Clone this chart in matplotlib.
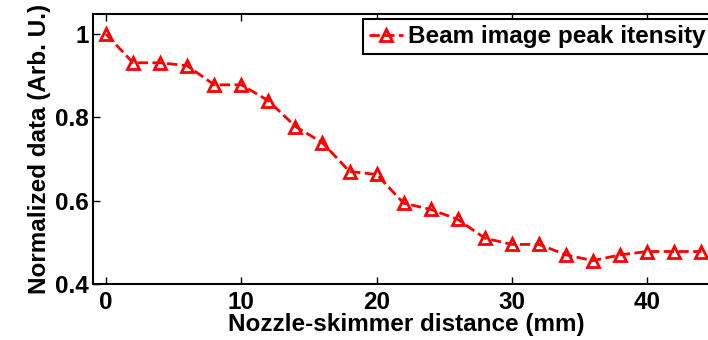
import numpy as np
import matplotlib
matplotlib.use("Agg")
import matplotlib.pyplot as plt

plt.rcParams['font.family'] = ['Liberation Sans', 'DejaVu Sans']
plt.rcParams['font.weight'] = 'bold'

# data
distance_mm = [0, 2, 4, 6, 8, 10, 12, 14, 16, 18, 20, 22,
               24, 26, 28, 30, 32, 34, 36, 38, 40, 42, 44]
peak_norm = [1.000, 0.931, 0.931, 0.924, 0.878, 0.878, 0.840, 0.778,
             0.739, 0.670, 0.663, 0.594, 0.579, 0.555, 0.510, 0.495,
             0.495, 0.470, 0.456, 0.470, 0.478, 0.478, 0.478]
x_ticks = [0, 10, 20, 30, 40]
y_ticks = [0.4, 0.6, 0.8, 1.0]
y_ticklabels = ['0.4', '0.6', '0.8', '1']

fs = 17.5
W, H = 708, 340
fig = plt.figure(figsize=(W / 100, H / 100), dpi=100)
# axes runs past the right edge, like the cropped original
ax = fig.add_axes([93 / W, 56 / H, 627 / W, 270 / H])

ax.plot(distance_mm, peak_norm, color='red', linestyle='--', linewidth=2,
        marker='^', markersize=8, markerfacecolor='none',
        markeredgecolor='red', markeredgewidth=2,
        label='Beam image peak itensity')

ax.set_xlim(-0.96, 45.38)
ax.set_ylim(0.4, 1.048)
ax.set_xticks(x_ticks)
ax.set_yticks(y_ticks)
ax.set_yticklabels(y_ticklabels)
ax.tick_params(direction='in', top=True, right=False, length=5, width=1,
               labelsize=fs)
ax.tick_params(axis='x', pad=5)
ax.tick_params(axis='y', pad=3)
for s in ['left', 'bottom', 'top']:
    ax.spines[s].set_linewidth(1.5)
ax.spines['right'].set_visible(False)

ax.set_xlabel('Nozzle-skimmer distance (mm)', fontsize=fs, fontweight='bold',
              labelpad=-1)
ax.set_ylabel('Normalized data (Arb. U.)', fontsize=fs, fontweight='bold',
              labelpad=3)

leg = ax.legend(loc='upper left', bbox_to_anchor=(0.4306, 0.981),
                borderaxespad=0, fancybox=False, framealpha=1,
                edgecolor='black', handlelength=1.4, handletextpad=0.2,
                borderpad=0.25, prop={'size': fs, 'weight': 'bold'})
leg.get_frame().set_linewidth(1.5)

fig.savefig('out.png', dpi=100)
